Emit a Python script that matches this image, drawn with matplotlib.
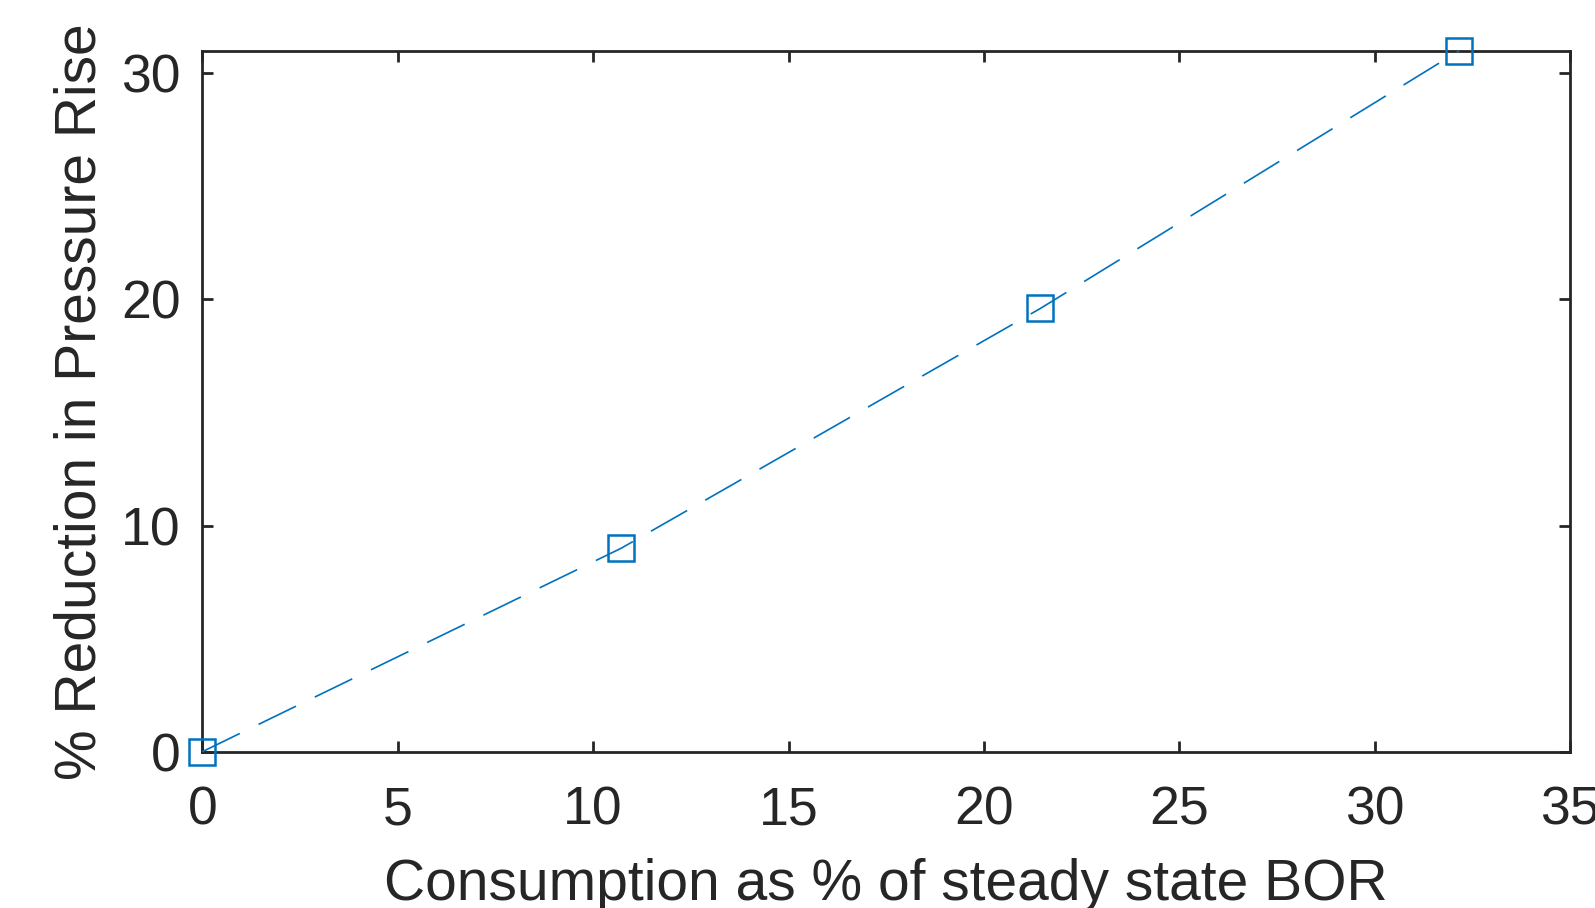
import matplotlib
matplotlib.use("Agg")
import matplotlib.pyplot as plt

consumption = [0.0, 10.72, 21.44, 32.16]
reduction = [0.0, 9.0, 19.6, 31.0]
xticks = [0, 5, 10, 15, 20, 25, 30, 35]
yticks = [0, 10, 20, 30]

plt.rcParams['font.family'] = ['Liberation Sans', 'DejaVu Sans']
plt.rcParams['lines.scale_dashes'] = False

W, H = 1595, 908
fig = plt.figure(figsize=(W / 100, H / 100), dpi=100)
ax = fig.add_axes([202.3 / W, 1 - 751.7 / H, (1570.3 - 202.3) / W, (751.7 - 50.7) / H])

blue = '#0072BD'
ax.plot(consumption, reduction, linestyle=(0, (30, 15)), color=blue, lw=1.2,
        marker='s', markersize=18.5, markerfacecolor='none', markeredgecolor=blue,
        markeredgewidth=1.8, clip_on=False, zorder=5)

ax.set_xlim(0, 35)
ax.set_ylim(0, reduction[-1])
ax.set_xticks(xticks)
ax.set_yticks(yticks)

dark = '#262626'
for s in ax.spines.values():
    s.set_linewidth(2.0)
    s.set_color(dark)
ax.tick_params(direction='in', length=8, width=2.0, colors=dark, labelsize=38.5,
               top=True, right=True)
ax.tick_params(axis='x', pad=24)
ax.tick_params(axis='y', pad=15.5)

ax.set_xlabel('Consumption as % of steady state BOR', fontsize=41, color=dark)
ax.set_ylabel('% Reduction in Pressure Rise', fontsize=41, color=dark)
ax.xaxis.set_label_coords(0.5, (751.7 - 858) / (751.7 - 50.7))
ax.yaxis.set_label_coords((107.5 - 202.3) / (1570.3 - 202.3), 0.5)

fig.savefig('out.png', dpi=100)
